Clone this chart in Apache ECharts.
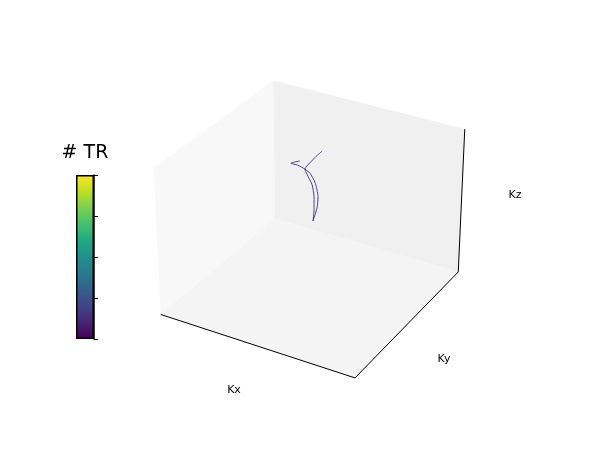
<!DOCTYPE html>
<html>
<head>
<meta charset="utf-8">
<script src="https://cdn.jsdelivr.net/npm/echarts@6/dist/echarts.min.js"></script>
<style>
  html, body { margin: 0; padding: 0; background: #fff; }
  #chart { width: 600px; height: 450px; }
</style>
</head>
<body>
<div id="chart"></div>
<script>
  // axis limits of the 3d box (k-space, arbitrary units)
  const kxLim = [-1, 1]
  const kyLim = [-1, 1]
  const kzLim = [-1, 1]

  // trajectory
  const trajKx = [-0.127, -0.220, -0.148, -0.075, -0.023, 0.029, 0.060, 0.050, 0.008, 0.019, 0.019, -0.002, -0.054, -0.075, -0.023, 0.039, 0.102]
  const trajKy = [0, 0, 0, 0, 0, 0, 0, 0, 0, 0, 0, 0, 0, 0, 0, 0, 0]
  const trajKz = [0.785, 0.721, 0.721, 0.694, 0.658, 0.553, 0.371, 0.215, 0.018, 0.175, 0.355, 0.514, 0.633, 0.694, 0.797, 0.904, 0.998]

  // colorbar (# TR), ticks without labels
  const trTicks = [0, 1, 2, 3, 4]

  const viridis = ['#440154', '#482475', '#414487', '#355f8d', '#2a788e', '#21918c', '#22a884', '#44bf70', '#7ad151', '#bddf26', '#fde725']

  // matplotlib-like 3d view
  const elev = 30 * Math.PI / 180
  const azim = -60 * Math.PI / 180
  const dist = 10
  const aspect = [4, 4, 3]
  const aNorm = Math.hypot(...aspect)
  const box = aspect.map((a) => a * 1.8294640721620434 * 25 / 24 / aNorm)

  const w = [Math.cos(elev) * Math.cos(azim), Math.cos(elev) * Math.sin(azim), Math.sin(elev)]
  let u = [-w[1], w[0], 0]
  const uLen = Math.hypot(...u)
  u = u.map((c) => c / uLen)
  const v = [w[1] * u[2] - w[2] * u[1], w[2] * u[0] - w[0] * u[2], w[0] * u[1] - w[1] * u[0]]

  const dot = (a, b) => a[0] * b[0] + a[1] * b[1] + a[2] * b[2]

  function project(x, y, z) {
    const q = [
      ((x - kxLim[0]) / (kxLim[1] - kxLim[0]) - 0.5) * box[0],
      ((y - kyLim[0]) / (kyLim[1] - kyLim[0]) - 0.5) * box[1],
      ((z - kzLim[0]) / (kzLim[1] - kzLim[0]) - 0.5) * box[2],
    ]
    const zv = dot(q, w) - dist
    return [dot(q, u) / -zv, dot(q, v) / -zv]
  }

  const [x0, x1] = kxLim
  const [y0, y1] = kyLim
  const [z0, z1] = kzLim

  const panes = [
    { color: '#f8f8f8', pts: [[x0, y0, z0], [x0, y1, z0], [x0, y1, z1], [x0, y0, z1]] },
    { color: '#f0f0f0', pts: [[x0, y1, z0], [x1, y1, z0], [x1, y1, z1], [x0, y1, z1]] },
    { color: '#f4f4f4', pts: [[x0, y0, z0], [x1, y0, z0], [x1, y1, z0], [x0, y1, z0]] },
  ]
  const edges = [
    [[x0, y0, z0], [x1, y0, z0]],
    [[x1, y0, z0], [x1, y1, z0]],
    [[x1, y1, z0], [x1, y1, z1]],
  ]

  const trajData = trajKx.map((kx, i) => project(kx, trajKy[i], trajKz[i]))

  // view window of the projection plane (px per unit ~1870)
  const scale = 1870
  const cx = 312.2
  const cy = 222.1

  const chart = echarts.init(document.getElementById('chart'))
  chart.setOption({
    animation: false,
    backgroundColor: '#fff',
    grid: [
      { left: 0, right: 0, top: 0, bottom: 0 },
      { left: 76, top: 175, width: 18, height: 164 },
    ],
    xAxis: [
      { type: 'value', gridIndex: 0, min: -cx / scale, max: (600 - cx) / scale, show: false },
      { type: 'category', gridIndex: 1, data: ['# TR'], show: false },
    ],
    yAxis: [
      { type: 'value', gridIndex: 0, min: (cy - 450) / scale, max: cy / scale, show: false },
      {
        type: 'value',
        gridIndex: 1,
        position: 'right',
        min: trTicks[0],
        max: trTicks[trTicks.length - 1],
        interval: trTicks[1] - trTicks[0],
        axisLine: { show: true, lineStyle: { color: '#000', width: 1.5 } },
        axisTick: { show: true, length: 4, lineStyle: { color: '#000', width: 1 } },
        axisLabel: { show: false },
        splitLine: { show: false },
      },
    ],
    series: [
      {
        type: 'custom',
        xAxisIndex: 0,
        yAxisIndex: 0,
        silent: true,
        data: panes.map((p, i) => [i]),
        renderItem: (params, api) => {
          const p = panes[params.dataIndex]
          return {
            type: 'polygon',
            shape: { points: p.pts.map((c) => api.coord(project(...c))) },
            style: { fill: p.color, stroke: null },
          }
        },
      },
      {
        type: 'custom',
        xAxisIndex: 0,
        yAxisIndex: 0,
        silent: true,
        data: edges.map((e, i) => [i]),
        renderItem: (params, api) => {
          const e = edges[params.dataIndex]
          return {
            type: 'polyline',
            shape: { points: e.map((c) => api.coord(project(...c))) },
            style: { stroke: '#000', lineWidth: 1, fill: null },
          }
        },
      },
      {
        type: 'line',
        xAxisIndex: 0,
        yAxisIndex: 0,
        data: trajData,
        symbol: 'none',
        smooth: 0.2,
        lineStyle: { color: '#4f3d88', width: 1 },
      },
      {
        type: 'bar',
        xAxisIndex: 1,
        yAxisIndex: 1,
        data: [trTicks[trTicks.length - 1]],
        barWidth: '100%',
        itemStyle: {
          color: new echarts.graphic.LinearGradient(0, 1, 0, 0,
            viridis.map((c, i) => ({ offset: i / (viridis.length - 1), color: c }))),
          borderColor: '#000',
          borderWidth: 1.5,
        },
      },
    ],
    graphic: [
      { type: 'text', x: 85, y: 153, style: { text: '# TR', font: '19px "DejaVu Sans"', fill: '#000', align: 'center', verticalAlign: 'middle' } },
      { type: 'text', x: 234, y: 390, style: { text: 'Kx', font: '11px "DejaVu Sans"', fill: '#000', align: 'center', verticalAlign: 'middle' } },
      { type: 'text', x: 444, y: 359, style: { text: 'Ky', font: '11px "DejaVu Sans"', fill: '#000', align: 'center', verticalAlign: 'middle' } },
      { type: 'text', x: 515, y: 195, style: { text: 'Kz', font: '11px "DejaVu Sans"', fill: '#000', align: 'center', verticalAlign: 'middle' } },
    ],
  })
</script>
</body>
</html>
